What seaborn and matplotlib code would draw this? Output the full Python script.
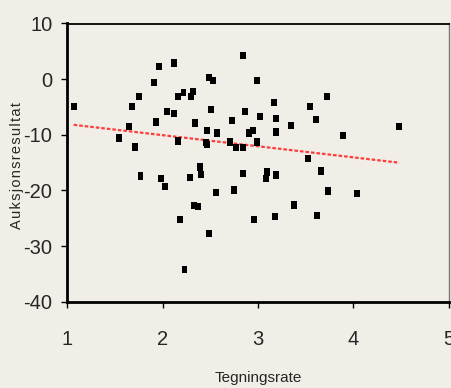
import matplotlib
matplotlib.use("Agg")
import matplotlib.pyplot as plt
import seaborn as sns
import pandas as pd

# Subscription rate vs. auction result
tegningsrate = [
    1.07, 1.54, 1.71, 1.65, 1.68, 1.75, 1.93, 1.91, 1.96, 2.12,
    2.05, 2.12, 2.16, 2.22, 2.30, 2.32, 2.16, 2.84, 2.49, 2.53,
    2.99, 2.51, 2.86, 3.17, 3.54, 2.34, 2.73, 3.02, 3.19, 3.35,
    2.47, 2.57, 2.91, 2.95, 3.19, 2.71, 2.99, 2.46, 2.47, 2.77,
    2.84, 3.52, 2.39, 3.72, 3.61, 4.48, 3.89, 2.84, 3.09, 3.08,
    3.19, 3.66, 2.75, 3.73, 4.04, 1.77, 1.98, 2.03, 2.29, 2.40,
    2.56, 2.18, 2.23, 2.33, 2.37, 2.49, 3.38, 2.96, 3.18, 3.62,
]
auksjonsresultat = [
    -4.9, -10.6, -12.2, -8.5, -4.9, -3.1, -7.7, -0.65, 2.3, 2.9,
    -5.8, -6.2, -3.1, -2.4, -3.1, -2.2, -11.1, 4.2, 0.3, -0.3,
    -0.3, -5.45, -5.8, -4.2, -4.9, -7.9, -7.4, -6.7, -7.1, -8.3,
    -9.2, -9.7, -9.7, -9.2, -9.5, -11.3, -11.3, -11.4, -11.7, -12.3,
    -12.3, -14.3, -15.8, -3.1, -7.25, -8.5, -10.1, -17.0, -16.7, -17.9,
    -17.2, -16.5, -19.9, -20.1, -20.5, -17.4, -17.9, -19.3, -17.7, -17.1,
    -20.4, -25.2, -34.2, -22.7, -22.9, -27.8, -22.6, -25.2, -24.7, -24.5,
]
x_ticks = [1, 2, 3, 4, 5]
y_ticks = [10, 0, -10, -20, -30, -40]

df = pd.DataFrame({"Tegningsrate": tegningsrate, "Auksjonsresultat": auksjonsresultat})

bg = "#f1eee7"
sns.set_theme(style="white")
plt.rcParams["font.family"] = ["Liberation Sans", "DejaVu Sans"]

fig = plt.figure(figsize=(4.52, 3.88), dpi=100, facecolor=bg)
ax = fig.add_axes([67 / 452, 1 - 301.7 / 388, 382 / 452, 278.2 / 388])
ax.set_facecolor(bg)

# slightly tall square marker
box = [(-0.4, -0.5), (0.4, -0.5), (0.4, 0.5), (-0.4, 0.5), (-0.4, -0.5)]
sns.scatterplot(data=df, x="Tegningsrate", y="Auksjonsresultat", ax=ax,
                marker=box, s=28, color="black", edgecolor="none",
                linewidth=0, zorder=3)
sns.regplot(data=df, x="Tegningsrate", y="Auksjonsresultat", ax=ax,
            scatter=False, ci=None, truncate=True,
            line_kws=dict(color="#ff3b3b", lw=1.6, ls=(0, (1.6, 0.9)), zorder=2))

ax.set_xlim(1, 5)
ax.set_ylim(-40, 10)
ax.set_xticks(x_ticks)
ax.set_yticks(y_ticks)
ax.set_xticklabels([str(v) for v in x_ticks])
ax.set_yticklabels([str(v) for v in y_ticks])

for side in ["left", "bottom"]:
    ax.spines[side].set_color("black")
    ax.spines[side].set_linewidth(2.0)
ax.spines["top"].set_color("black")
ax.spines["top"].set_linewidth(1.3)
ax.spines["right"].set_color("#777777")
ax.spines["right"].set_linewidth(1.0)

ax.tick_params(axis="y", direction="out", length=4.5, width=1.0, color="black",
               pad=6, labelsize=14.5, left=True)
ax.tick_params(axis="x", direction="out", length=4.5, width=1.0, color="black",
               pad=16, labelsize=14.5, bottom=True)

hair = "\u200a"
ax.set_ylabel(hair.join("Auksjonsresultat"), fontsize=10.5)
ax.yaxis.set_label_coords(-0.112, 0.488)
ax.set_xlabel("Tegningsrate", fontsize=11)
ax.xaxis.set_label_coords(0.5, -0.25)

fig.savefig("out.png", dpi=100, facecolor=bg)
